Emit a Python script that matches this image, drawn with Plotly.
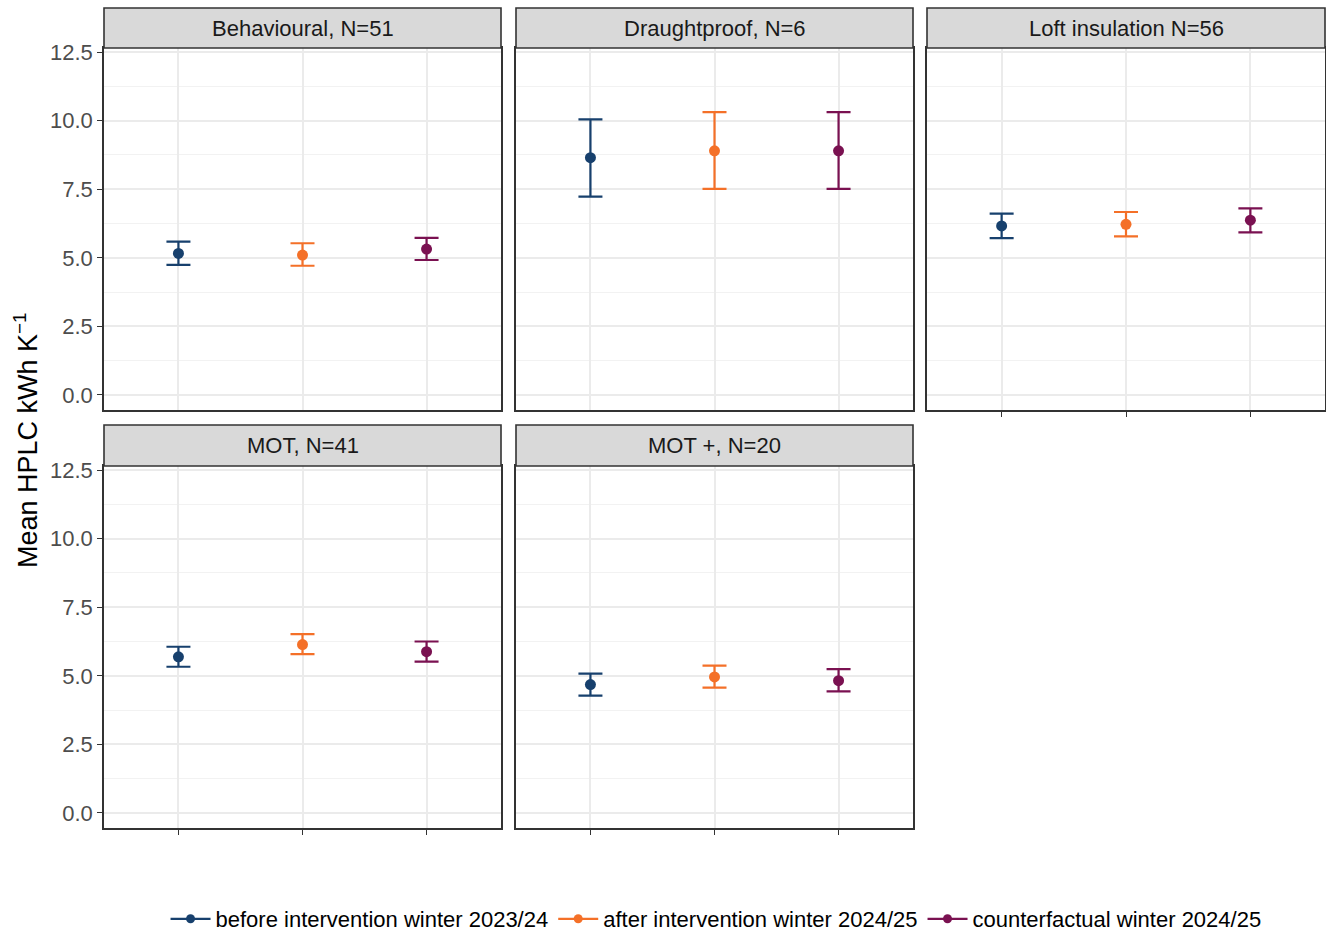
import plotly.graph_objects as go

# Panel titles and series
panels = ["Behavioural, N=51", "Draughtproof, N=6", "Loft insulation N=56",
          "MOT, N=41", "MOT +, N=20"]
series = ["before intervention winter 2023/24",
          "after intervention winter 2024/25",
          "counterfactual winter 2024/25"]
colors = ["#17406D", "#F47028", "#7A1151"]

# Mean HPLC and interval bounds, one list per series (ordered by panel)
before_mean = [5.16, 8.65, 6.16, 5.69, 4.68]
before_low = [4.74, 7.23, 5.72, 5.33, 4.28]
before_high = [5.59, 10.05, 6.61, 6.06, 5.08]

after_mean = [5.10, 8.90, 6.22, 6.14, 4.96]
after_low = [4.71, 7.51, 5.78, 5.79, 4.57]
after_high = [5.53, 10.31, 6.67, 6.52, 5.37]

counter_mean = [5.32, 8.90, 6.37, 5.88, 4.82]
counter_low = [4.92, 7.51, 5.93, 5.52, 4.43]
counter_high = [5.73, 10.31, 6.80, 6.25, 5.24]

means = [before_mean, after_mean, counter_mean]
lows = [before_low, after_low, counter_low]
highs = [before_high, after_high, counter_high]

y_ticks = [0.0, 2.5, 5.0, 7.5, 10.0, 12.5]

# page geometry in pixels, converted to paper fractions below
W, H = 1326, 940
col_px = [(104, 501), (516, 913), (927, 1325)]
row_px = [(48, 410), (466, 828)]   # plot area top/bottom
strip_px = [(8, 48), (425, 466)]   # strip top/bottom

FONT = "Liberation Sans, Arial, sans-serif"

fig = go.Figure()
layout = {}

for p, title in enumerate(panels):
    r, c = divmod(p, 3)
    idx = p + 1
    xname = "xaxis" if idx == 1 else f"xaxis{idx}"
    yname = "yaxis" if idx == 1 else f"yaxis{idx}"
    xref = "x" if idx == 1 else f"x{idx}"
    yref = "y" if idx == 1 else f"y{idx}"
    x0, x1 = col_px[c]
    t, b = row_px[r]
    # x ticks appear on panels with nothing below them
    has_xticks = (r == 1) or (c == 2)
    layout[xname] = dict(
        domain=[x0 / W, x1 / W], anchor=yref, range=[0.4, 3.6],
        tickvals=[1, 2, 3], showticklabels=False,
        ticks="outside" if has_xticks else "", ticklen=5, tickwidth=1.3,
        tickcolor="#333333",
        showgrid=True, gridcolor="#EBEBEB", gridwidth=2,
        zeroline=False, showline=True, mirror=True,
        linecolor="#333333", linewidth=1.6, fixedrange=True,
    )
    layout[yname] = dict(
        domain=[1 - b / H, 1 - t / H], anchor=xref, range=[-0.55, 12.65],
        tickvals=y_ticks, ticktext=[f"{v:.1f}" for v in y_ticks],
        showticklabels=(c == 0), ticks="outside" if c == 0 else "",
        ticklen=5, tickwidth=1.3, tickcolor="#333333",
        tickfont=dict(size=22, color="#4D4D4D"),
        showgrid=True, gridcolor="#EBEBEB", gridwidth=2,
        minor=dict(tickvals=[1.25, 3.75, 6.25, 8.75, 11.25], showgrid=True,
                   gridcolor="#F2F2F2", gridwidth=1),
        zeroline=False, showline=True, mirror=True,
        linecolor="#333333", linewidth=1.6, fixedrange=True,
    )
    for s in range(3):
        m = means[s][p]
        fig.add_trace(go.Scatter(
            x=[s + 1], y=[m], mode="markers", xaxis=xref, yaxis=yref,
            marker=dict(color=colors[s], size=11),
            error_y=dict(type="data", symmetric=False,
                         array=[highs[s][p] - m], arrayminus=[m - lows[s][p]],
                         color=colors[s], thickness=2.2, width=12),
            showlegend=False, hoverinfo="y",
        ))
    # strip header
    st, sb = strip_px[r]
    fig.add_shape(type="rect", xref="paper", yref="paper",
                  x0=x0 / W, x1=x1 / W, y0=1 - sb / H, y1=1 - st / H,
                  fillcolor="#D9D9D9", line=dict(color="#333333", width=1.6),
                  layer="above")
    fig.add_annotation(text=title, xref="paper", yref="paper",
                       x=(x0 + x1) / 2 / W, y=1 - (st + sb) / 2 / H,
                       showarrow=False, font=dict(size=22, color="#1A1A1A"),
                       xanchor="center", yanchor="middle")

# legend entries (line + dot keys)
for s in range(3):
    fig.add_trace(go.Scatter(
        x=[None], y=[None], mode="lines+markers", name=series[s],
        line=dict(color=colors[s], width=2.2),
        marker=dict(color=colors[s], size=9),
    ))

fig.add_annotation(text="Mean HPLC kWh K<sup>\u22121</sup>", xref="paper",
                   yref="paper", x=26 / W, y=1 - 440 / H, textangle=-90,
                   showarrow=False, font=dict(size=27, color="#000000"),
                   xanchor="center", yanchor="middle")

fig.update_layout(
    **layout,
    autosize=True,
    margin=dict(l=0, r=0, t=0, b=0, autoexpand=False),
    paper_bgcolor="white", plot_bgcolor="white",
    font=dict(family=FONT),
    legend=dict(orientation="h", x=0.54, xanchor="center",
                yref="container", y=-0.007, yanchor="bottom",
                font=dict(size=22, color="#000000"),
                itemwidth=40, tracegroupgap=0),
)

fig.write_html("out.html", default_width="100%", default_height="100%")
